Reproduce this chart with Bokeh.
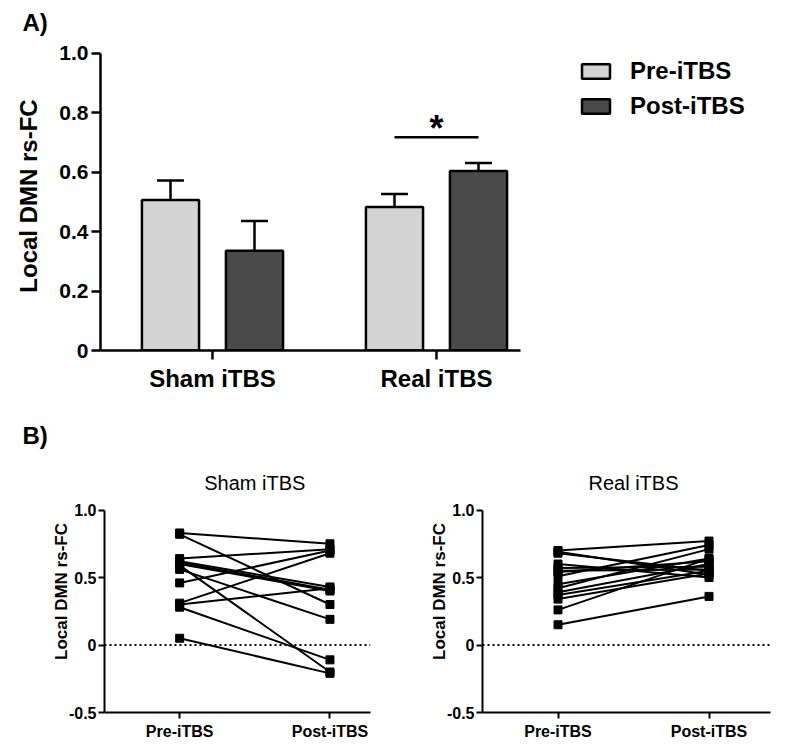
from bokeh.plotting import figure
from bokeh.models import Legend, LegendItem, Label, FixedTicker, Range1d, Title
from bokeh.layouts import column, row
from bokeh.embed import file_html
from bokeh.resources import INLINE

# ---------------- data ----------------
groups = ["Sham iTBS", "Real iTBS"]
conditions = ["Pre-iTBS", "Post-iTBS"]
mean_pre = [0.507, 0.483]
mean_post = [0.336, 0.604]
sem_pre = [0.065, 0.044]
sem_post = [0.100, 0.027]
sig_y = 0.718
sig_text = "*"

yticks_a = [0, 0.2, 0.4, 0.6, 0.8, 1.0]
ylabels_a = ["0", "0.2", "0.4", "0.6", "0.8", "1.0"]
yticks_b = [-0.5, 0, 0.5, 1.0]
ylabels_b = ["-0.5", "0", "0.5", "1.0"]
ylabel = "Local DMN rs-FC"

sham_pre = [0.83, 0.82, 0.64, 0.62, 0.61, 0.60, 0.59, 0.56, 0.46, 0.31, 0.30, 0.28, 0.05]
sham_post = [0.75, 0.30, 0.71, 0.43, 0.41, 0.40, -0.20, 0.19, 0.70, 0.68, 0.42, -0.11, -0.21]
real_pre = [0.70, 0.69, 0.68, 0.60, 0.57, 0.55, 0.54, 0.51, 0.45, 0.42, 0.39, 0.37, 0.34, 0.26, 0.15]
real_post = [0.77, 0.52, 0.55, 0.50, 0.58, 0.56, 0.62, 0.74, 0.64, 0.71, 0.60, 0.55, 0.53, 0.64, 0.36]

FONT = "Liberation Sans"
LIGHT = "#d3d3d3"
DARK = "#4a4a4a"

# ---------------- panel A ----------------
group_x = [2, 6]
off = 0.75
pre_x = [g - off for g in group_x]
post_x = [g + off for g in group_x]
A_PX_PER_UNIT = 56
A_FRAME_W = 690
A_Y_PX = 298.0       # px per unit on y
A_TOP = 40           # frame top (y axis itself ends lower, at 1.0)
A_FRAME_H = 350 - A_TOP

titleA = Title(text="A)", align="left", offset=-78, standoff=12, text_font=FONT,
               text_font_style="bold", text_font_size="24px", text_color="black")

pA = figure(width=800, height=400, x_range=Range1d(0, A_FRAME_W / A_PX_PER_UNIT),
            y_range=Range1d(0, A_FRAME_H / A_Y_PX), title=titleA,
            output_backend="svg", toolbar_location=None,
            min_border_left=100, min_border_right=800 - 100 - A_FRAME_W,
            min_border_top=A_TOP, min_border_bottom=50)

r_pre = pA.vbar(x=pre_x, top=mean_pre, bottom=0, width=1.02, fill_color=LIGHT,
                line_color="black", line_width=2.5)
r_post = pA.vbar(x=post_x, top=mean_post, bottom=0, width=1.02, fill_color=DARK,
                 line_color="black", line_width=2.5)

for xs, ms, ss in ((pre_x, mean_pre, sem_pre), (post_x, mean_post, sem_post)):
    ups = [m + s for m, s in zip(ms, ss)]
    pA.segment(x0=xs, y0=ms, x1=xs, y1=ups, line_color="black", line_width=2.5)
    pA.segment(x0=[x - 0.24 for x in xs], y0=ups, x1=[x + 0.24 for x in xs], y1=ups,
               line_color="black", line_width=2.5)

# significance bar between Real pre and Real post
pA.segment(x0=[pre_x[1]], y0=[sig_y], x1=[post_x[1]], y1=[sig_y], line_color="black", line_width=2.5)
pA.add_layout(Label(x=(pre_x[1] + post_x[1]) / 2, y=sig_y, text=sig_text, text_align="center",
                    text_baseline="alphabetic", y_offset=9, text_font=FONT,
                    text_font_style="bold", text_font_size="36px", text_color="black"))

pA.xaxis.ticker = FixedTicker(ticks=group_x)
pA.xaxis.major_label_overrides = {g: n for g, n in zip(group_x, groups)}
pA.xaxis.bounds = (0, 7.5)
pA.yaxis.ticker = FixedTicker(ticks=yticks_a)
pA.yaxis.major_label_overrides = {t: l for t, l in zip(yticks_a, ylabels_a)}
pA.yaxis.bounds = (0, 1.0)
pA.yaxis.axis_label = ylabel

for ax in (pA.xaxis[0], pA.yaxis[0]):
    ax.axis_line_width = 2.5
    ax.major_tick_line_width = 2.5
    ax.major_tick_in = 0
    ax.major_tick_out = 9
    ax.minor_tick_line_color = None
    ax.major_label_text_font = FONT
    ax.major_label_text_font_style = "bold"
    ax.major_label_text_color = "black"
    ax.axis_label_text_font = FONT
    ax.axis_label_text_font_style = "bold"
    ax.axis_label_text_font_size = "24px"
    ax.axis_label_text_color = "black"
pA.xaxis.major_label_text_font_size = "24px"
pA.yaxis.major_label_text_font_size = "21px"
pA.xaxis.major_label_standoff = 5
pA.yaxis.major_label_standoff = 3
pA.yaxis.axis_label_standoff = 14
pA.xgrid.grid_line_color = None
pA.ygrid.grid_line_color = None
pA.outline_line_color = None

legend = Legend(items=[LegendItem(label=conditions[0], renderers=[r_pre]),
                       LegendItem(label=conditions[1], renderers=[r_post])],
                location=(478, 230), orientation="vertical",
                glyph_width=35, glyph_height=18, label_standoff=17, spacing=7,
                padding=0, margin=0, border_line_color=None, background_fill_alpha=0,
                label_text_font=FONT, label_text_font_style="bold",
                label_text_font_size="24px", label_text_color="black")
pA.add_layout(legend)

# ---------------- panel B ----------------
B_H = 352
B_TOP = 70          # frame top (px inside figure)
B_FRAME_H = 242
B_BOTTOM = B_H - B_TOP - B_FRAME_H
B_PX_PER_UNIT = 135.0
b_y_end = -0.5 + B_FRAME_H / B_PX_PER_UNIT
TITLE_DROP = 12     # px from frame top to title anchor
title_y = b_y_end - TITLE_DROP / B_PX_PER_UNIT


def paired(title, pre, post, width, border_left, frame_w, px_unit):
    p = figure(width=width, height=B_H, x_range=Range1d(0, frame_w / px_unit),
               y_range=Range1d(-0.5, b_y_end), title=None,
               output_backend="svg", toolbar_location=None,
               min_border_left=border_left, min_border_right=width - border_left - frame_w,
               min_border_top=B_TOP, min_border_bottom=B_BOTTOM)
    n = len(pre)
    p.segment(x0=[0], y0=[0], x1=[frame_w / px_unit], y1=[0], line_color="black",
              line_width=2, line_dash="2 3")
    p.segment(x0=[1] * n, y0=pre, x1=[3] * n, y1=post, line_color="black", line_width=2)
    p.scatter(x=[1] * n, y=pre, marker="square", size=8, color="black")
    p.scatter(x=[3] * n, y=post, marker="square", size=8, color="black")

    p.xaxis.ticker = FixedTicker(ticks=[1, 3])
    p.xaxis.major_label_overrides = {1: conditions[0], 3: conditions[1]}
    p.yaxis.ticker = FixedTicker(ticks=yticks_b)
    p.yaxis.major_label_overrides = {t: l for t, l in zip(yticks_b, ylabels_b)}
    p.yaxis.bounds = (-0.5, 1.0)
    p.yaxis.axis_label = ylabel
    for ax in (p.xaxis[0], p.yaxis[0]):
        ax.axis_line_width = 2
        ax.major_tick_line_width = 2
        ax.major_tick_in = 0
        ax.major_tick_out = 6
        ax.minor_tick_line_color = None
        ax.major_label_text_font = FONT
        ax.major_label_text_font_style = "bold"
        ax.major_label_text_font_size = "16px"
        ax.major_label_text_color = "black"
        ax.axis_label_text_font = FONT
        ax.axis_label_text_font_style = "bold"
        ax.axis_label_text_font_size = "17px"
        ax.axis_label_text_color = "black"
    p.xaxis.major_label_standoff = 4
    p.yaxis.major_label_standoff = 2
    p.yaxis.axis_label_standoff = -5
    p.xgrid.grid_line_color = None
    p.ygrid.grid_line_color = None
    p.outline_line_color = None

    p.add_layout(Label(x=2, y=title_y, text=title, text_align="center",
                       text_baseline="alphabetic", text_font=FONT,
                       text_font_size="20px", text_color="black"))
    return p


TAG_W = 48
tagB = figure(width=TAG_W, height=B_H, x_range=Range1d(0, TAG_W), y_range=Range1d(0, B_H),
              title=None, x_axis_location=None, y_axis_location=None,
              output_backend="svg", toolbar_location=None,
              min_border_left=0, min_border_right=0, min_border_top=0,
              min_border_bottom=0)
tagB.frame_align = False
tagB.outline_line_color = None
tagB.xgrid.visible = False
tagB.ygrid.visible = False
tagB.add_layout(Label(x=22, y=B_H - 35, text="B)", text_baseline="alphabetic",
                      text_font=FONT, text_font_style="bold", text_font_size="24px",
                      text_color="black"))

pB1 = paired(groups[0], sham_pre, sham_post, 400 - TAG_W, 101 - TAG_W, 269, 76.0)
pB2 = paired(groups[1], real_pre, real_post, 400, 82, 288, 75.5)

layout = column(pA, row(tagB, pB1, pB2))
open("out.html", "w").write(file_html(layout, INLINE))
